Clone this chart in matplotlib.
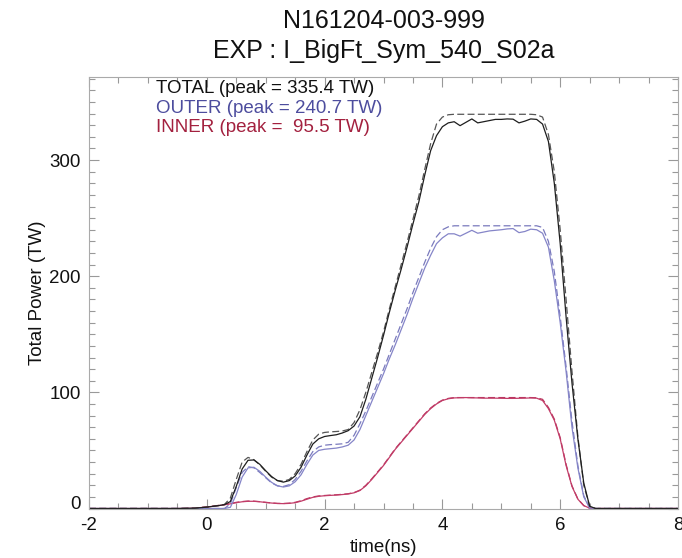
import matplotlib
matplotlib.use("Agg")
import matplotlib.pyplot as plt
import matplotlib.transforms as mtransforms
from matplotlib.ticker import MultipleLocator

plt.rcParams['font.family'] = ['Liberation Sans', 'DejaVu Sans']
plt.rcParams['lines.scale_dashes'] = False
plt.rcParams['axes.unicode_minus'] = False

# ---- data ----
time_ns = [-2.0, -0.5, -0.2, 0.0, 0.2, 0.3, 0.4, 0.5, 0.6, 0.7,
           0.8, 0.9, 1.0, 1.1, 1.2, 1.3, 1.4, 1.5, 1.6, 1.7,
           1.8, 1.9, 2.0, 2.1, 2.2, 2.3, 2.4, 2.5, 2.6, 2.7,
           2.8, 2.9, 3.0, 3.1, 3.2, 3.3, 3.4, 3.5, 3.6, 3.7,
           3.8, 3.9, 4.0, 4.1, 4.2, 4.3, 4.4, 4.5, 4.6, 4.7,
           4.8, 4.9, 5.0, 5.1, 5.2, 5.3, 5.4, 5.5, 5.6, 5.7,
           5.8, 5.9, 6.0, 6.1, 6.2, 6.3, 6.4, 6.5, 6.6, 7.0, 8.0]

total_delivered = [0, 0, 0.3, 1.2, 2.5, 3.3, 6, 19, 34, 41.5,
                   41.8, 38, 32.5, 27.5, 24, 22.7, 24, 28, 35.5, 46,
                   55.5, 60, 62, 62.8, 63.5, 65, 67, 71, 79, 94,
                   112, 130, 149, 169, 188, 206, 225, 245, 264, 287,
                   308, 321, 328.7, 332, 333, 329.6, 332.5, 335.4, 332, 333,
                   334, 335, 335, 335.4, 335.2, 332, 333.5, 335.4, 335, 331,
                   316, 280, 228, 165, 108, 60, 22, 2, 0, 0, 0]

total_requested = [0, 0, 0.3, 1.2, 2.5, 3.5, 9, 25, 40, 44,
                   42, 37.5, 32, 27, 24, 23.5, 25, 30, 38, 49,
                   59, 64, 65.5, 66, 66.3, 66.7, 68, 74, 85, 100,
                   117, 134, 152, 172, 191, 210, 229, 249, 269, 292,
                   314, 331, 337, 339, 339.4, 339.4, 339.4, 339.4, 339.4, 339.4,
                   339.4, 339.4, 339.4, 339.4, 339.4, 339.4, 339.4, 339.4, 339, 337,
                   322, 290, 240, 180, 118, 62, 20, 2, 0, 0, 0]

outer_delivered = [0, 0, 0, 0, 0, 0, 1, 12, 27, 35,
                   35.5, 32, 27, 22.5, 19.5, 18.5, 19.5, 23, 29, 38,
                   46, 50, 51, 51.5, 52, 53, 54.5, 59, 68, 80,
                   92, 104, 116, 129, 141, 154, 167, 181, 194, 207,
                   218, 228, 233, 236.5, 236.5, 234.5, 237, 239.5, 237, 238,
                   239, 239.5, 240, 240.7, 241, 237.5, 238.5, 240.5, 240, 237,
                   225, 196, 160, 118, 70, 35, 10, 0.5, 0, 0, 0]

outer_requested = [0, 0, 0, 0, 0, 0, 4, 18, 31, 36,
                   35, 31, 26.5, 22, 19.5, 19, 20.5, 25, 32, 41,
                   49, 53, 54.5, 55, 55.3, 55.7, 57, 63, 73, 84,
                   96, 108, 120, 133, 146, 159, 172, 186, 199, 212,
                   224, 234, 240, 242.5, 243.4, 243.4, 243.4, 243.4, 243.4, 243.4,
                   243.4, 243.4, 243.4, 243.4, 243.4, 243.4, 243.4, 243.4, 243.4, 242,
                   230, 204, 165, 122, 75, 37, 11, 0.5, 0, 0, 0]

inner_delivered = [0, 0, 0.3, 1.2, 2.5, 3.2, 4.0, 5.0, 5.8, 6.2,
                   6.2, 5.8, 5.2, 4.7, 4.3, 4.2, 4.4, 5.0, 6.3, 8.0,
                   9.6, 10.5, 11.0, 11.3, 11.6, 12.0, 12.5, 13.5, 15.5, 19.5,
                   25, 31, 37, 44, 51, 57, 63, 69, 75, 81,
                   86, 90, 93, 94.5, 95.2, 95.4, 95.5, 95.3, 95.2, 95.0,
                   95.0, 95.0, 94.9, 94.8, 94.8, 94.9, 95.0, 95.2, 95.0, 93,
                   86, 76, 60, 37, 19, 8, 2.5, 0.3, 0, 0, 0]

inner_requested = [0, 0, 0.4, 1.4, 2.7, 3.4, 4.3, 5.3, 6.0, 6.4,
                   6.3, 5.9, 5.3, 4.8, 4.4, 4.3, 4.6, 5.3, 6.7, 8.5,
                   10.0, 10.8, 11.2, 11.5, 11.8, 12.2, 12.7, 13.7, 15.8, 20,
                   25.5, 31.5, 37.5, 44.5, 51.5, 57.5, 63.5, 69.5, 75.5, 81.5,
                   86.5, 90.5, 93.3, 94.8, 95.5, 95.5, 95.5, 95.5, 95.5, 95.5,
                   95.5, 95.5, 95.5, 95.5, 95.5, 95.5, 95.5, 95.5, 95.3, 94,
                   87, 77, 61, 38, 19.5, 8.2, 2.5, 0.3, 0, 0, 0]

title_lines = ["N161204-003-999", "EXP : I_BigFt_Sym_540_S02a"]
legend_labels = ["TOTAL (peak = 335.4 TW)",
                 "OUTER (peak = 240.7 TW)",
                 "INNER (peak =  95.5 TW)"]
x_ticks = [-2, 0, 2, 4, 6, 8]
y_ticks = [0, 100, 200, 300]

# ---- figure ----
W, H = 682, 558
fig = plt.figure(figsize=(W / 100, H / 100), dpi=100)
L, R, T_, B = 89, 678, 77, 508.5
ax = fig.add_axes([L / W, 1 - B / H, (R - L) / W, (B - T_) / H])

c_black = '#1e1e1e'
c_black_d = '#555555'
c_blue = '#8585c8'
c_blue_d = '#7a7abd'
c_red = '#c23c68'
c_red_d = '#b8365e'

dash = (0, (5, 2.4))
ax.plot(time_ns, inner_requested, color=c_red_d, lw=0.9, linestyle=dash)
ax.plot(time_ns, inner_delivered, color=c_red, lw=0.9)
ax.plot(time_ns, outer_requested, color=c_blue_d, lw=0.9, linestyle=dash)
ax.plot(time_ns, outer_delivered, color=c_blue, lw=0.9)
ax.plot(time_ns, total_requested, color=c_black_d, lw=0.9, linestyle=dash)
ax.plot(time_ns, total_delivered, color=c_black, lw=0.9)

ax.set_xlim(-2, 8)
ax.set_ylim(0, 371.5)
ax.set_xticks(x_ticks)
ax.set_yticks(y_ticks)
ax.set_xticklabels([str(v) for v in x_ticks])
ax.set_yticklabels([str(v) for v in y_ticks])
ax.xaxis.set_minor_locator(MultipleLocator(0.5))
ax.yaxis.set_minor_locator(MultipleLocator(10))
ax.tick_params(which='both', direction='in', top=True, right=True,
               color='#999999', width=0.8, labelsize=13.5, labelcolor='#111111')
ax.tick_params(which='major', length=7, pad=6)
ax.tick_params(which='minor', length=4.5)
for s in ax.spines.values():
    s.set_color('#aaaaaa')
    s.set_linewidth(0.8)
# lift the "0" label slightly, as in the reference
lab0 = ax.get_yticklabels()[0]
lab0.set_transform(lab0.get_transform() +
                   mtransforms.ScaledTranslation(0, 6 / 100, fig.dpi_scale_trans))

ax.set_xlabel("time(ns)", fontsize=13.5, labelpad=4, color='#111111')
ax.set_ylabel("Total Power (TW)", fontsize=13.5, labelpad=2, color='#111111')

cx = (L + R) / 2 / W
fig.text(cx, 1 - 21 / H, title_lines[0], ha='center', va='center', fontsize=18, color='#111111')
fig.text(cx, 1 - 51 / H, title_lines[1], ha='center', va='center', fontsize=18, color='#111111')

leg_colors = ['#111111', '#4d4d9e', '#a3213f']
leg_base = [93, 113, 132]
for lab, col, yb in zip(legend_labels, leg_colors, leg_base):
    fig.text(156 / W, 1 - yb / H, lab, ha='left', va='baseline', fontsize=13.5, color=col)

fig.savefig("out.png", dpi=100)
